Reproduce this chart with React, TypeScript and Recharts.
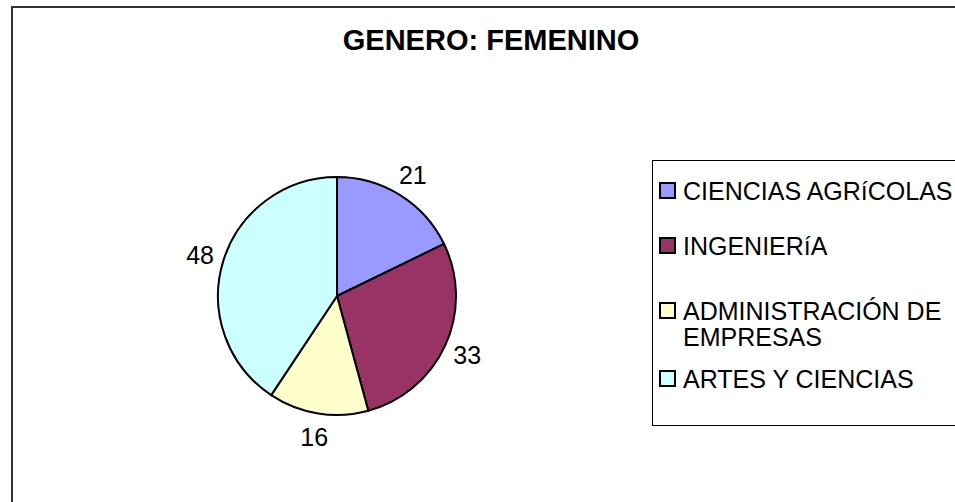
import { PieChart, Pie, Cell, Legend } from "recharts";

const CATEGORIES = ["CIENCIAS AGRíCOLAS", "INGENIERíA", "ADMINISTRACIÓN DE EMPRESAS", "ARTES Y CIENCIAS"];
const VALUES = [21, 33, 16, 48];
const COLORS = ["#9999FF", "#993366", "#FFFFCC", "#CCFFFF"];

const FONT = '"Liberation Sans", Arial, sans-serif';
const RAD = Math.PI / 180;
// space above each legend entry
const ENTRY_GAPS = [17, 29, 39, 16];

const data = CATEGORIES.map((name, i) => ({ name, value: VALUES[i] }));

function renderLabel(props: any) {
    const { cx, cy, midAngle, outerRadius, value } = props;
    const r = outerRadius + 24;
    const x = cx + r * Math.cos(-midAngle * RAD);
    const y = cy + r * Math.sin(-midAngle * RAD);
    return (
        <text x={x} y={y} textAnchor="middle" dominantBaseline="central"
            fontFamily={FONT} fontSize={25} fill="#000">
            {value}
        </text>
    );
}

function LegendBox() {
    return (
        <div style={{
            boxSizing: "border-box", width: 330, height: 266,
            border: "1.5px solid #000", paddingLeft: 6,
            fontFamily: FONT, fontSize: 25, lineHeight: "26px", color: "#000"
        }}>
            {data.map((d, i) => (
                <div key={d.name} style={{ display: "flex", alignItems: "flex-start", marginTop: ENTRY_GAPS[i] }}>
                    <span style={{
                        width: 13, height: 13, border: "2px solid #000", background: COLORS[i],
                        marginTop: 4, marginRight: 7, flex: "none"
                    }} />
                    <span style={{ width: 275 }}>{d.name}</span>
                </div>
            ))}
        </div>
    );
}

export default function App() {
    return (
        <div style={{ position: "absolute", left: 0, top: 0, width: 955, height: 502, overflow: "hidden", background: "#fff" }}>
            <div style={{
                position: "absolute", left: 11, top: 6, width: 1000, height: 1000,
                borderLeft: "2px solid #333", borderTop: "2px solid #333"
            }} />
            <div style={{
                position: "absolute", left: 0, top: 24, width: 982, textAlign: "center",
                fontFamily: FONT, fontWeight: "bold", fontSize: 29, color: "#000"
            }}>
                GENERO: FEMENINO
            </div>
            <div style={{ position: "absolute", left: 0, top: 0 }}>
                <PieChart width={955} height={502}>
                    <Pie
                        data={data}
                        dataKey="value"
                        nameKey="name"
                        cx={332}
                        cy={291}
                        outerRadius={119}
                        startAngle={90}
                        endAngle={-270}
                        stroke="#000"
                        strokeWidth={2}
                        label={renderLabel}
                        labelLine={false}
                        isAnimationActive={false}
                    >
                        {data.map((_, i) => (
                            <Cell key={i} fill={COLORS[i]} />
                        ))}
                    </Pie>
                    <Legend
                        content={<LegendBox />}
                        wrapperStyle={{ position: "absolute", left: 652, top: 160, width: 330, height: 266 }}
                    />
                </PieChart>
            </div>
        </div>
    );
}
